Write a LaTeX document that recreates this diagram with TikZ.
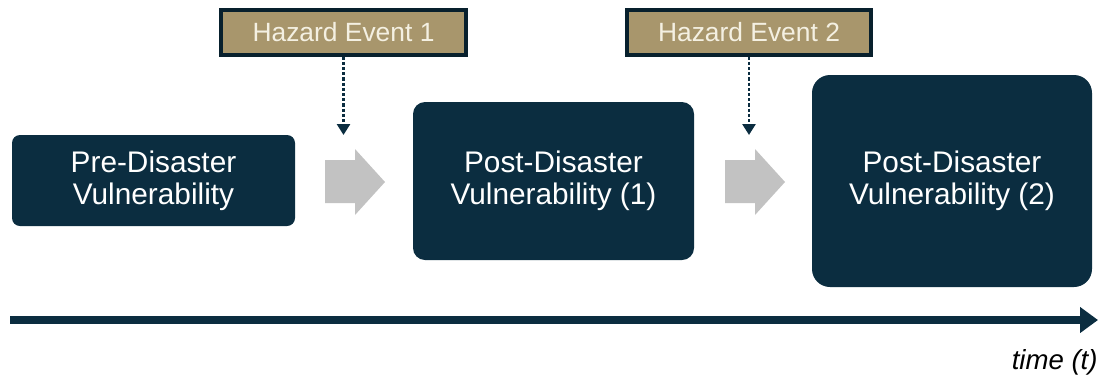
\documentclass[tikz,border=0pt]{standalone}
\usepackage{fontspec}
\setmainfont{Liberation Sans}
\usetikzlibrary{arrows.meta}
\definecolor{navy}{HTML}{0B2D40}
\definecolor{tan}{HTML}{A8966C}
\definecolor{cream}{HTML}{F4F0E2}
\definecolor{arrowgray}{HTML}{C2C2C2}
\tikzset{
  stagebox/.style={fill=navy,text=white,align=center,inner sep=0pt,
    font=\fontsize{14.9}{16}\selectfont},
  hazbox/.style={draw=navy!70!black,line width=1.6pt,fill=tan,text=cream,inner sep=0pt,
    minimum height=22.5pt,font=\fontsize{13.2}{14}\selectfont},
  hit/.style={navy,line width=1.3pt,dash pattern=on 1.6pt off 1pt,-{Triangle[length=5.5pt,width=6.5pt]}}
}
\begin{document}
\begin{tikzpicture}[x=0.5pt,y=-0.5pt]
  \useasboundingbox (0,0) rectangle (1102,381);

  % Stages
  \node[stagebox,rounded corners=4pt,minimum width=141.5pt,minimum height=45.5pt] (pre) at (153.5,180.5) {Pre-Disaster\\Vulnerability};
  \node[stagebox,rounded corners=6pt,minimum width=140.5pt,minimum height=79pt] (post1) at (553.5,181) {Post-Disaster\\Vulnerability (1)};
  \node[stagebox,rounded corners=9pt,minimum width=140pt,minimum height=106pt] (post2) at (952,181) {Post-Disaster\\Vulnerability (2)};

  % Hazards
  \node[hazbox,minimum width=122.5pt] (haz1) at (343.5,32.5) {Hazard Event 1};
  \node[hazbox,minimum width=122pt] (haz2) at (749,32.5) {Hazard Event 2};
  \coordinate (hit1) at (343.5,135);
  \coordinate (hit2) at (749,135);
  \draw[hit] (haz1.south) -- (hit1);
  \draw[hit] (haz2.south) -- (hit2);

  % Gray arrows
  \fill[arrowgray] (325,160) -- (355,160) -- (355,149) -- (385,182) -- (355,215) -- (355,203) -- (325,203) -- cycle;
  \fill[arrowgray] (725,160) -- (755,160) -- (755,149) -- (785,182) -- (755,215) -- (755,203) -- (725,203) -- cycle;

  % Time axis
  \coordinate (t0) at (10,320);
  \coordinate (t1) at (1098,320);
  \draw[navy,line width=4pt,-{Triangle[length=9pt,width=12.5pt]}] (t0) -- (t1);
  \node[anchor=east,inner sep=0pt,font=\fontsize{13.8}{16}\selectfont\itshape] (tlabel) at (1098,362) {time (t)};

\end{tikzpicture}
\end{document}
